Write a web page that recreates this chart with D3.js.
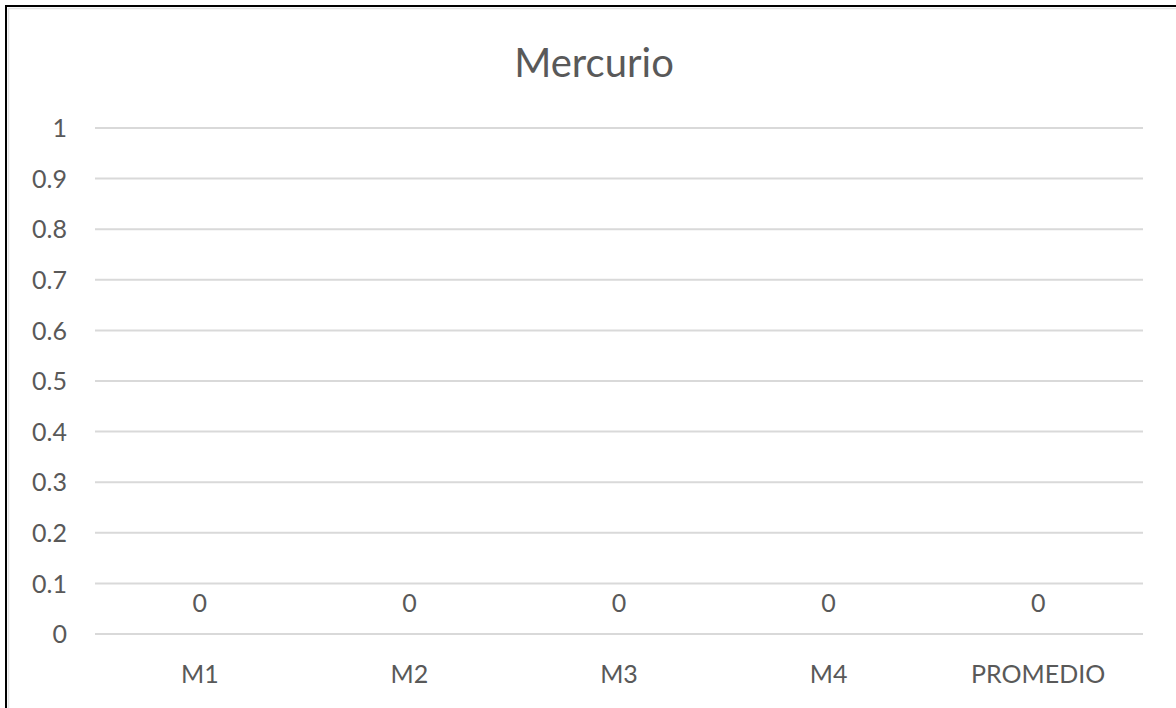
<!DOCTYPE html>
<html>
<head>
<meta charset="utf-8">
<script src="https://cdn.jsdelivr.net/npm/d3@7"></script>
<style>
  html, body { margin: 0; padding: 0; background: #fff; }
  svg { display: block; }
  text { font-family: Lato, "Open Sans", sans-serif; fill: #595959; }
</style>
</head>
<body>
<svg id="chart" width="1176" height="708"></svg>
<script>
// Chart data
const title = "Mercurio";
const categories = ["M1", "M2", "M3", "M4", "PROMEDIO"];
const values = [0, 0, 0, 0, 0];
const yTicks = [0, 0.1, 0.2, 0.3, 0.4, 0.5, 0.6, 0.7, 0.8, 0.9, 1];

const W = 1176, H = 708;
const plot = { left: 95, right: 1143, top: 128, bottom: 634 };

const svg = d3.select("#chart");

// Outer frame: dark edge with a light inner rim
svg.append("rect")
  .attr("x", 6).attr("y", 6)
  .attr("width", W + 20).attr("height", H + 20)
  .attr("fill", "#fff")
  .attr("stroke", "#000").attr("stroke-width", 2);
svg.append("rect")
  .attr("x", 8.5).attr("y", 8.5)
  .attr("width", W + 20).attr("height", H + 20)
  .attr("fill", "none")
  .attr("stroke", "#e3e3e3").attr("stroke-width", 1.5);

const x = d3.scaleBand()
  .domain(categories)
  .range([plot.left, plot.right])
  .paddingInner(0.5).paddingOuter(0.25);

const y = d3.scaleLinear()
  .domain([0, 1])
  .range([plot.bottom, plot.top]);

// Horizontal gridlines (the zero line doubles as the category axis)
svg.append("g")
  .selectAll("line")
  .data(yTicks)
  .join("line")
  .attr("x1", plot.left).attr("x2", plot.right)
  .attr("y1", d => y(d)).attr("y2", d => y(d))
  .attr("stroke", "#d9d9d9").attr("stroke-width", 2);

// Value axis labels
const yAxis = d3.axisLeft(y)
  .tickValues(yTicks)
  .tickFormat(d => String(+d.toFixed(1)))
  .tickSize(0)
  .tickPadding(0);
const gy = svg.append("g")
  .attr("transform", `translate(67,0)`)
  .call(yAxis);
gy.select(".domain").remove();
gy.selectAll("text")
  .attr("dy", "0.35em")
  .style("font-size", "25px")
  .style("font-family", "Lato, 'Open Sans', sans-serif")
  .attr("fill", "#595959");

// Category axis labels
const xAxis = d3.axisBottom(x).tickSize(0).tickPadding(0);
const gx = svg.append("g")
  .attr("transform", `translate(0,${plot.bottom})`)
  .call(xAxis);
gx.select(".domain").remove();
gx.selectAll("text")
  .attr("y", 49)
  .attr("dy", 0)
  .style("font-size", "25px")
  .style("font-family", "Lato, 'Open Sans', sans-serif")
  .attr("fill", "#595959");

// Bars (zero height for zero values)
svg.append("g")
  .selectAll("rect")
  .data(values)
  .join("rect")
  .attr("x", (d, i) => x(categories[i]))
  .attr("width", x.bandwidth())
  .attr("y", d => y(d))
  .attr("height", d => y(0) - y(d))
  .attr("fill", "#4472c4");

// Data labels
svg.append("g")
  .selectAll("text")
  .data(values)
  .join("text")
  .attr("x", (d, i) => x(categories[i]) + x.bandwidth() / 2)
  .attr("y", d => y(d) - 22)
  .attr("text-anchor", "middle")
  .style("font-size", "25px")
  .text(d => d);

// Title
svg.append("text")
  .attr("x", 594)
  .attr("y", 77)
  .attr("text-anchor", "middle")
  .style("font-size", "40px")
  .text(title);
</script>
</body>
</html>
